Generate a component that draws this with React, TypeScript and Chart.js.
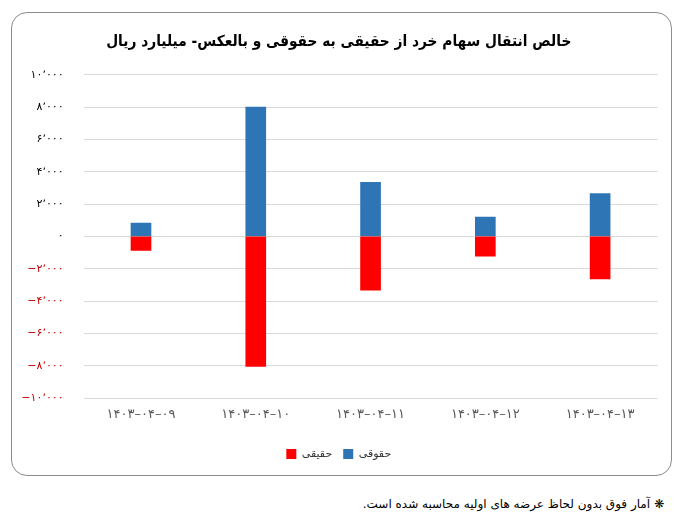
import React, { useEffect, useRef } from "react";
import { Chart, registerables } from "chart.js";

Chart.register(...registerables);

const TITLE = "خالص انتقال سهام خرد از حقیقی به حقوقی و بالعکس- میلیارد ریال";
const FOOTNOTE = "❋ آمار فوق بدون لحاظ عرضه های اولیه محاسبه شده است.";

const categories = ["۱۴۰۳–۰۴–۰۹", "۱۴۰۳–۰۴–۱۰", "۱۴۰۳–۰۴–۱۱", "۱۴۰۳–۰۴–۱۲", "۱۴۰۳–۰۴–۱۳"];
const seriesNames = ["حقیقی", "حقوقی"];
const haghighi = [-870, -8050, -3330, -1220, -2630];
const hoghooghi = [830, 8000, 3350, 1200, 2650];
const yMin = -10000;
const yMax = 10000;
const yStep = 2000;

const FA = "۰۱۲۳۴۵۶۷۸۹";
function fmt(v: number): string {
  const abs = Math.round(Math.abs(v)).toString().replace(/\B(?=(\d{3})+(?!\d))/g, "٬");
  const fa = abs.replace(/\d/g, (d) => FA[+d]);
  return (v < 0 ? "−" : "") + fa;
}

const FONT = "'DejaVu Sans', sans-serif";
const TITLE_FONT = "'DejaVu Sans Condensed', 'DejaVu Sans', sans-serif";

export default function App() {
  const ref = useRef<HTMLCanvasElement>(null);
  useEffect(() => {
    const chart = new Chart(ref.current!, {
      type: "bar",
      data: {
        labels: categories,
        datasets: [
          { label: seriesNames[0], data: haghighi, backgroundColor: "#ff0000", barThickness: 20 },
          { label: seriesNames[1], data: hoghooghi, backgroundColor: "#2e75b6", barThickness: 20 },
        ],
      },
      options: {
        responsive: false,
        animation: false,
        layout: { padding: { top: 10, left: 20, right: 24.5, bottom: 8.5 } },
        plugins: {
          title: {
            display: true,
            text: TITLE,
            color: "#000",
            font: { family: TITLE_FONT, size: 15.3, weight: "bold" },
            padding: { top: 22.5, bottom: 24 },
          },
          legend: {
            position: "bottom",
            labels: {
              boxWidth: 10,
              boxHeight: 10,
              padding: 11,
              color: "#333",
              font: { family: FONT, size: 11 },
            },
          },
          tooltip: { enabled: false },
        },
        scales: {
          x: {
            stacked: true,
            grid: { display: false },
            border: { display: false },
            ticks: { color: "#595959", font: { family: FONT, size: 13 }, padding: 1, maxRotation: 0 },
            afterFit: (s: any) => { s.height = 39.5; },
          },
          y: {
            stacked: true,
            min: yMin,
            max: yMax,
            grid: { color: "#d9d9d9", drawTicks: false },
            border: { display: false },
            ticks: {
              stepSize: yStep,
              padding: 20,
              font: { family: FONT, size: 11 },
              color: (c: any) => (c.tick && c.tick.value < 0 ? "#c00000" : "#000"),
              callback: (v: any) => fmt(Number(v)),
            },
            afterFit: (s: any) => { s.width = 63.6; },
          },
        },
      },
    });
    return () => chart.destroy();
  }, []);

  return (
    <>
      <div
        style={{
          position: "absolute",
          left: 11,
          top: 12,
          width: 661,
          height: 464,
          boxSizing: "border-box",
          border: "1px solid #8c8c8c",
          borderRadius: 16,
        }}
      />
      <canvas ref={ref} width={682} height={478} style={{ position: "absolute", left: 0, top: 0 }} />
      <div
        dir="rtl"
        style={{
          position: "absolute",
          right: 18,
          top: 495,
          fontFamily: FONT,
          fontSize: 12,
          lineHeight: "18px",
          color: "#000",
          whiteSpace: "nowrap",
        }}
      >
        {FOOTNOTE}
      </div>
    </>
  );
}
